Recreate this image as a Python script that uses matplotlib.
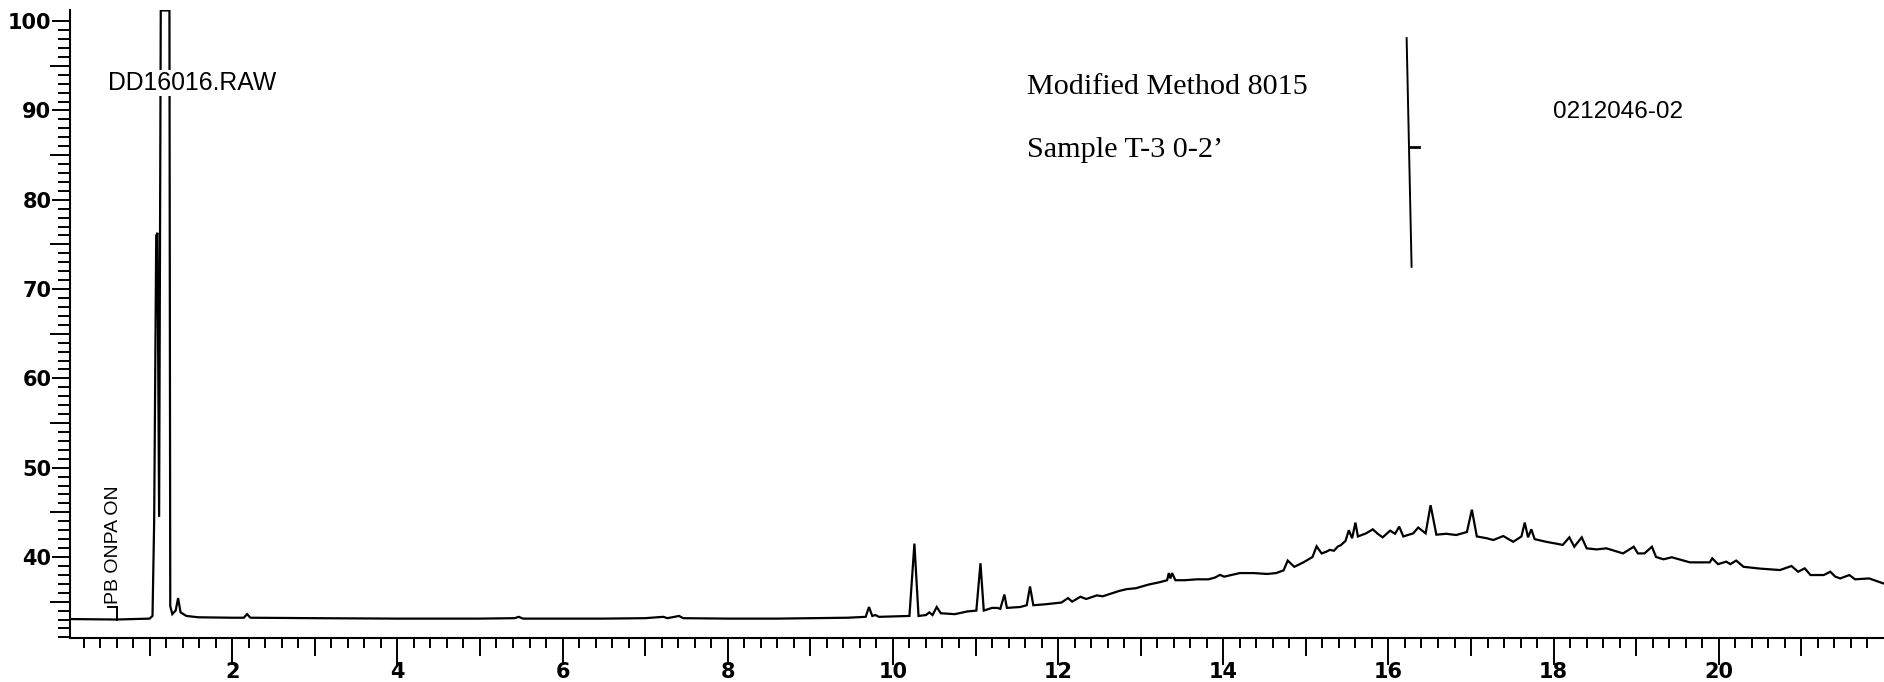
import matplotlib
matplotlib.use("Agg")
import numpy as np
import matplotlib.pyplot as plt
from matplotlib import font_manager
from matplotlib.ticker import FixedLocator, FixedFormatter, NullFormatter

# ---------------- data ----------------
time_min = [0.04, 0.60, 1.00, 1.035, 1.055, 1.08, 1.095, 1.115, 1.135, 1.24, 1.25, 1.275,
            1.315, 1.345, 1.375, 1.445, 1.59, 2.00, 2.14, 2.18, 2.22, 3.00, 4.00, 5.00,
            5.42, 5.47, 5.52, 6.50, 7.00, 7.22, 7.27, 7.41, 7.46, 8.00, 8.60, 9.00,
            9.45, 9.67, 9.71, 9.75, 9.79, 9.83, 10.20, 10.26, 10.31, 10.40, 10.44, 10.48,
            10.53, 10.58, 10.75, 10.90, 11.01, 11.06, 11.10, 11.20, 11.26, 11.30, 11.35, 11.38,
            11.54, 11.62, 11.66, 11.70, 11.84, 12.04, 12.12, 12.17, 12.27, 12.34, 12.47, 12.54,
            12.74, 12.83, 12.94, 13.09, 13.24, 13.32, 13.34, 13.36, 13.38, 13.42, 13.53, 13.68,
            13.82, 13.90, 13.96, 14.01, 14.20, 14.37, 14.53, 14.64, 14.73, 14.78, 14.86, 14.97,
            15.08, 15.13, 15.19, 15.25, 15.29, 15.34, 15.39, 15.42, 15.48, 15.52, 15.56, 15.60,
            15.63, 15.73, 15.81, 15.87, 15.93, 16.02, 16.08, 16.13, 16.18, 16.30, 16.36, 16.45,
            16.51, 16.58, 16.70, 16.82, 16.95, 17.01, 17.07, 17.19, 17.27, 17.39, 17.51, 17.61,
            17.65, 17.69, 17.73, 17.77, 17.91, 18.03, 18.11, 18.19, 18.25, 18.34, 18.40, 18.52,
            18.64, 18.84, 18.97, 19.02, 19.10, 19.19, 19.24, 19.33, 19.43, 19.65, 19.89, 19.92,
            19.99, 20.09, 20.14, 20.21, 20.30, 20.50, 20.74, 20.88, 20.96, 21.04, 21.11, 21.27,
            21.35, 21.41, 21.47, 21.58, 21.65, 21.82, 21.99]
signal = [33.05, 33.0, 33.1, 33.4, 44.0, 76.0, 76.3, 44.5, 101.2, 101.2, 34.5, 33.6,
          34.0, 35.4, 33.8, 33.4, 33.25, 33.2, 33.2, 33.6, 33.2, 33.15, 33.1, 33.1,
          33.15, 33.3, 33.1, 33.1, 33.15, 33.3, 33.15, 33.4, 33.15, 33.1, 33.1, 33.15,
          33.2, 33.3, 34.4, 33.4, 33.5, 33.3, 33.4, 41.5, 33.4, 33.5, 33.8, 33.5,
          34.4, 33.7, 33.6, 33.9, 34.0, 39.3, 34.0, 34.3, 34.3, 34.2, 35.8, 34.3,
          34.4, 34.6, 36.7, 34.6, 34.7, 34.9, 35.4, 35.0, 35.55, 35.3, 35.7, 35.6,
          36.2, 36.4, 36.5, 36.9, 37.2, 37.4, 38.2, 37.6, 38.2, 37.4, 37.4, 37.5,
          37.5, 37.7, 38.0, 37.8, 38.2, 38.2, 38.1, 38.2, 38.5, 39.6, 38.9, 39.4,
          40.0, 41.2, 40.4, 40.6, 40.8, 40.7, 41.2, 41.3, 41.8, 43.0, 42.1, 43.85,
          42.3, 42.65, 43.1, 42.6, 42.2, 42.95, 42.6, 43.4, 42.3, 42.65, 43.3, 42.65,
          45.8, 42.5, 42.6, 42.46, 42.8, 45.3, 42.3, 42.1, 41.9, 42.35, 41.7, 42.3,
          43.85, 42.2, 43.1, 42.0, 41.7, 41.5, 41.35, 42.2, 41.15, 42.2, 40.97, 40.85,
          40.97, 40.4, 41.15, 40.4, 40.4, 41.15, 40.0, 39.74, 39.97, 39.4, 39.4, 39.85,
          39.2, 39.48, 39.2, 39.6, 38.9, 38.7, 38.54, 38.99, 38.35, 38.73, 37.98, 37.98,
          38.35, 37.8, 37.6, 37.98, 37.5, 37.6, 37.05]

event_line_x = [16.22, 16.28]
event_line_y = [98.1, 72.5]
event_tick_x = [16.25, 16.37]
event_tick_y = [85.9, 85.9]

pb_marker_x = [0.61, 0.61]
pb_marker_y = [33.0, 34.4]
pb_stub_x = [0.50, 0.61]
pb_stub_y = [34.4, 34.4]

x_label_ticks = [2, 4, 6, 8, 10, 12, 14, 16, 18, 20]
x_label_text = ["2", "4", "6", "8", "10", "12", "14", "16", "18", "20"]
y_label_ticks = [40, 50, 60, 70, 80, 90, 100]
y_label_text = ["40", "50", "60", "70", "80", "90", "100"]

file_label = "DD16016.RAW"
method_label = "Modified Method 8015"
sample_label = "Sample T-3 0-2\u2019"
lab_id_label = "0212046-02"
event_label = "PB ONPA ON"

# ---------------- figure ----------------
W, H = 1884, 682
fig = plt.figure(figsize=(W / 100, H / 100), dpi=100)
ax_l, ax_b, ax_t = 70, 638, 10
ax = fig.add_axes([ax_l / W, 1 - ax_b / H, 1 - ax_l / W, (ax_b - ax_t) / H])
ax.set_xlim(0.036, 22.0)
ax.set_ylim(30.93, 101.25)

for s in ["top", "right"]:
    ax.spines[s].set_visible(False)
for s in ["left", "bottom"]:
    ax.spines[s].set_linewidth(1.5)
    ax.spines[s].set_color("black")

lw = 1.6
ax.plot(time_min, signal, color="black", lw=lw, zorder=3, solid_joinstyle="miter")
ax.plot(event_line_x, event_line_y, color="black", lw=1.4)
ax.plot(event_tick_x, event_tick_y, color="black", lw=2.0)
ax.plot(pb_marker_x, pb_marker_y, color="black", lw=1.4)
ax.plot(pb_stub_x, pb_stub_y, color="black", lw=1.4)

# ---------------- ticks ----------------
px = 0.72  # points per pixel at 100 dpi
tick_size = 15

x_int = list(range(1, 22))
ax.xaxis.set_major_locator(FixedLocator(x_int))
ax.xaxis.set_major_formatter(FixedFormatter(
    [x_label_text[x_label_ticks.index(v)] if v in x_label_ticks else "" for v in x_int]))
x_minor = [round(0.2 * k, 1) for k in range(1, 111) if k % 5 != 0]
ax.xaxis.set_minor_locator(FixedLocator(x_minor))
ax.xaxis.set_minor_formatter(NullFormatter())
ax.tick_params(axis="x", which="major", direction="out", width=1.4, length=27 * px,
               pad=-2, labelsize=tick_size)
ax.tick_params(axis="x", which="minor", direction="out", width=1.4, length=10 * px)
for t, v in zip(ax.xaxis.get_major_ticks(), x_int):
    if v % 2 == 1:
        t.tick1line.set_markersize(18 * px)
for lab in ax.get_xticklabels():
    lab.set_fontfamily("DejaVu Sans")
    lab.set_fontweight("bold")

y_five = list(range(35, 101, 5))
ax.yaxis.set_major_locator(FixedLocator(y_five))
ax.yaxis.set_major_formatter(FixedFormatter(
    [y_label_text[y_label_ticks.index(v)] if v in y_label_ticks else "" for v in y_five]))
y_minor = [v for v in range(31, 101) if v % 5 != 0]
ax.yaxis.set_minor_locator(FixedLocator(y_minor))
ax.yaxis.set_minor_formatter(NullFormatter())
ax.tick_params(axis="y", which="major", direction="out", width=1.4, length=18 * px,
               pad=0.5, labelsize=tick_size)
ax.tick_params(axis="y", which="minor", direction="out", width=1.4, length=12 * px)
for t, v in zip(ax.yaxis.get_major_ticks(), y_five):
    if v % 10 == 5:
        t.tick1line.set_markersize(20 * px)
for lab in ax.get_yticklabels():
    lab.set_fontfamily("DejaVu Sans")
    lab.set_fontweight("bold")

# ---------------- annotations ----------------
def fx(x):
    return x / W

def fy(y):
    return 1 - y / H

fig.text(fx(108), fy(83), file_label, family="Liberation Sans", size=17.8, ha="left",
         va="center", zorder=10,
         bbox=dict(facecolor="white", edgecolor="none", pad=1.0))
fig.text(fx(1027), fy(87), method_label, family="Liberation Serif", size=21.7,
         ha="left", va="center")
fig.text(fx(1027), fy(150), sample_label, family="Liberation Serif", size=21.7,
         ha="left", va="center")
fig.text(fx(1553), fy(112), lab_id_label, family="Liberation Sans", size=17.5,
         ha="left", va="center")

names = {f.name for f in font_manager.fontManager.ttflist}
narrow = "Liberation Sans Narrow" if "Liberation Sans Narrow" in names else (
    "DejaVu Sans Condensed" if "DejaVu Sans Condensed" in names else "Liberation Sans")
narrow_size = 16.5 if narrow != "Liberation Sans" else 14
fig.text(fx(114), fy(604), event_label, family=narrow, size=narrow_size, rotation=90,
         ha="center", va="bottom")

fig.savefig("out.png", dpi=100)
